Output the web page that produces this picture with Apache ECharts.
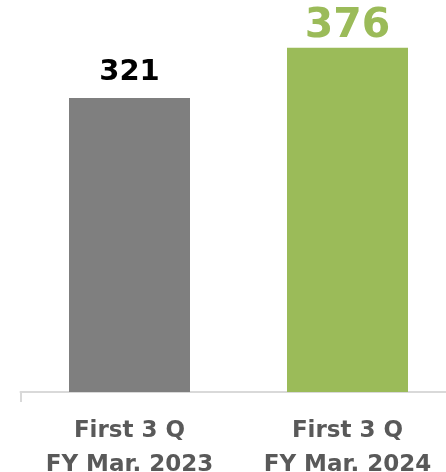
<!DOCTYPE html>
<html>
<head>
<meta charset="utf-8">
<script src="https://cdn.jsdelivr.net/npm/echarts@6/dist/echarts.min.js"></script>
<style>
  html, body { margin: 0; padding: 0; background: #fff; }
  #chart { width: 446px; height: 472px; }
</style>
</head>
<body>
<div id="chart"></div>
<script>
const categories = ['First 3 Q\nFY Mar. 2023', 'First 3 Q\nFY Mar. 2024'];
const values = [321, 376];
const barColors = ['#7F7F7F', '#9BBB59'];
const labelColors = ['#000000', '#9BBB59'];
const labelSizes = [29, 41];
const labelGaps = [11, 1];

const chart = echarts.init(document.getElementById('chart'));

chart.setOption({
    animation: false,
    grid: {
        left: 20.5,
        top: 0,
        width: 436,
        height: 392,
        containLabel: false,
        outerBoundsMode: 'none'
    },
    xAxis: {
        type: 'category',
        data: categories,
        axisLine: {
            lineStyle: { color: '#D9D9D9', width: 2 }
        },
        axisTick: {
            show: true,
            length: 10,
            interval: (i) => i === 0,
            lineStyle: { color: '#D9D9D9', width: 2 }
        },
        axisLabel: {
            color: '#595959',
            fontFamily: 'DejaVu Sans',
            fontWeight: 'bold',
            fontSize: 23,
            lineHeight: 34,
            margin: 22
        }
    },
    yAxis: {
        type: 'value',
        min: 0,
        max: 428,
        show: false,
        splitLine: { show: false }
    },
    series: [{
        type: 'bar',
        barWidth: 121,
        data: values.map((v, i) => ({
            value: v,
            itemStyle: { color: barColors[i] },
            label: {
                color: labelColors[i],
                fontSize: labelSizes[i],
                distance: labelGaps[i]
            }
        })),
        label: {
            show: true,
            position: 'top',
            fontFamily: 'DejaVu Sans',
            fontWeight: 'bold'
        }
    }]
});
</script>
</body>
</html>
